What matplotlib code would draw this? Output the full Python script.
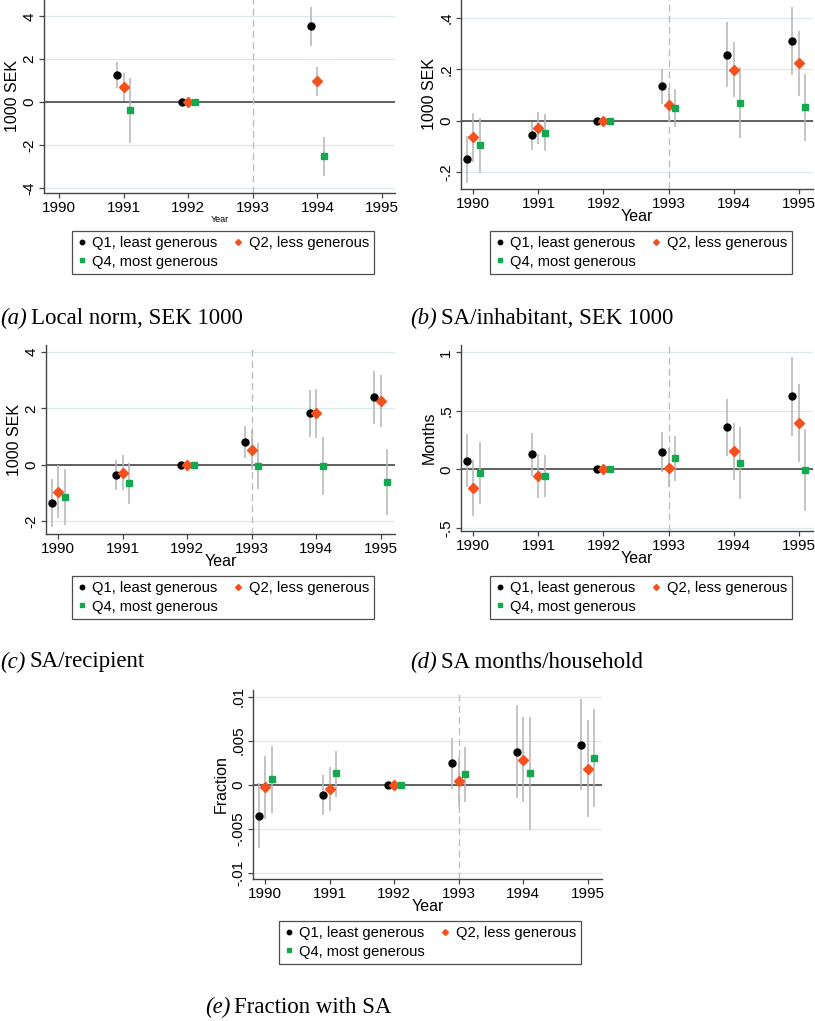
import matplotlib
matplotlib.use("Agg")
import matplotlib.pyplot as plt
import numpy as np
from matplotlib.lines import Line2D

plt.rcParams['font.family'] = ['Liberation Sans', 'DejaVu Sans']

W, H = 815, 1021
years = [1990, 1991, 1992, 1993, 1994, 1995]
series_names = ["Q1, least generous", "Q2, less generous", "Q4, most generous"]

# Panel (a): Local norm, SEK 1000 (only 1991, 1992, 1994)
a_years = [1991, 1992, 1994]
a_q1 = [1.25, 0.0, 3.55]
a_q1_lo = [0.65, 0.0, 2.62]
a_q1_hi = [1.85, 0.0, 4.45]
a_q2 = [0.70, 0.0, 0.97]
a_q2_lo = [0.05, 0.0, 0.28]
a_q2_hi = [1.35, 0.0, 1.65]
a_q4 = [-0.38, 0.0, -2.52]
a_q4_lo = [-1.88, 0.0, -3.43]
a_q4_hi = [1.12, 0.0, -1.60]

# Panel (b): SA/inhabitant, SEK 1000
b_q1 = [-0.151, -0.057, 0.0, 0.134, 0.257, 0.310]
b_q1_lo = [-0.242, -0.114, 0.0, 0.064, 0.129, 0.179]
b_q1_hi = [-0.060, -0.004, 0.0, 0.201, 0.384, 0.444]
b_q2 = [-0.064, -0.030, 0.0, 0.060, 0.199, 0.223]
b_q2_lo = [-0.161, -0.092, 0.0, -0.005, 0.092, 0.094]
b_q2_hi = [0.031, 0.034, 0.0, 0.128, 0.305, 0.351]
b_q4 = [-0.097, -0.047, 0.0, 0.048, 0.070, 0.051]
b_q4_lo = [-0.204, -0.119, 0.0, -0.026, -0.070, -0.081]
b_q4_hi = [0.009, 0.026, 0.0, 0.122, 0.210, 0.182]

# Panel (c): SA/recipient
c_q1 = [-1.37, -0.37, 0.0, 0.82, 1.82, 2.39]
c_q1_lo = [-2.22, -0.89, 0.0, 0.25, 0.97, 1.43]
c_q1_hi = [-0.52, 0.17, 0.0, 1.37, 2.65, 3.34]
c_q2 = [-0.96, -0.28, 0.0, 0.52, 1.82, 2.26]
c_q2_lo = [-1.88, -0.90, 0.0, -0.20, 0.95, 1.34]
c_q2_hi = [-0.01, 0.33, 0.0, 1.25, 2.69, 3.18]
c_q4 = [-1.14, -0.66, 0.0, -0.05, -0.05, -0.63]
c_q4_lo = [-2.14, -1.40, 0.0, -0.85, -1.08, -1.79]
c_q4_hi = [-0.15, 0.07, 0.0, 0.76, 0.97, 0.56]

# Panel (d): SA months/household
d_q1 = [0.074, 0.128, 0.0, 0.148, 0.359, 0.624]
d_q1_lo = [-0.148, -0.057, 0.0, -0.020, 0.114, 0.285]
d_q1_hi = [0.300, 0.313, 0.0, 0.316, 0.601, 0.963]
d_q2 = [-0.157, -0.057, 0.0, 0.014, 0.157, 0.393]
d_q2_lo = [-0.396, -0.248, 0.0, -0.150, -0.088, 0.063]
d_q2_hi = [0.080, 0.131, 0.0, 0.180, 0.393, 0.726]
d_q4 = [-0.028, -0.054, 0.0, 0.094, 0.057, -0.006]
d_q4_lo = [-0.296, -0.234, 0.0, -0.103, -0.251, -0.356]
d_q4_hi = [0.236, 0.125, 0.0, 0.288, 0.362, 0.345]

# Panel (e): Fraction with SA
e_q1 = [-0.00352, -0.00114, 0.0, 0.00242, 0.00375, 0.00455]
e_q1_lo = [-0.00723, -0.00341, 0.0, -0.00049, -0.00152, -0.00064]
e_q1_hi = [0.00015, 0.00110, 0.0, 0.00534, 0.00905, 0.00973]
e_q2 = [-0.00030, -0.00045, 0.0, 0.00042, 0.00280, 0.00182]
e_q2_lo = [-0.00394, -0.00295, 0.0, -0.00250, -0.00200, -0.00371]
e_q2_hi = [0.00326, 0.00200, 0.0, 0.00320, 0.00765, 0.00735]
e_q4 = [0.00061, 0.00129, 0.0, 0.00117, 0.00129, 0.00299]
e_q4_lo = [-0.00326, -0.00136, 0.0, -0.00200, -0.00515, -0.00258]
e_q4_hi = [0.00439, 0.00386, 0.0, 0.00432, 0.00765, 0.00856]

y_ticks_ab = {
    'a': ([-4, -2, 0, 2, 4], ["-4", "-2", "0", "2", "4"]),
    'b': ([-0.2, 0, 0.2, 0.4], ["-.2", "0", ".2", ".4"]),
    'c': ([-2, 0, 2, 4], ["-2", "0", "2", "4"]),
    'd': ([-0.5, 0, 0.5, 1], ["-.5", "0", ".5", "1"]),
    'e': ([-0.01, -0.005, 0, 0.005, 0.01], ["-.01", "-.005", "0", ".005", ".01"]),
}

C_Q1 = "#000000"
C_Q2 = "#f4511e"
C_Q4 = "#14a84f"
CI_COL = "#b4b4b4"
GRID = "#dce9ec"

fig = plt.figure(figsize=(W / 100, H / 100), dpi=100)


def add_axes_px(l, t, r, b):
    return fig.add_axes([l / W, 1 - b / H, (r - l) / W, (b - t) / H])


def draw_panel(ax, xs, data, ylim, ticks, ylabel, xlim, small_xlabel=False):
    ax.set_xlim(*xlim)
    ax.set_ylim(*ylim)
    tv, tl = ticks
    ax.set_yticks(tv)
    ax.set_yticklabels(tl, rotation=90, va='center', fontsize=11)
    ax.set_xticks(years)
    ax.set_xticklabels([str(y) for y in years], fontsize=11)
    for v in tv:
        ax.axhline(v, color=GRID, lw=0.9, zorder=0)
    ax.axhline(0, color="#3a3a3a", lw=1.1, zorder=1)
    ax.axvline(1993, color="#c0c0c0", lw=1.0, ls=(0, (5, 3)), zorder=1)
    xs = np.array(xs, dtype=float)
    specs = [(-0.1, 'o', C_Q1, 5.0), (0.0, 'D', C_Q2, 4.6), (0.1, 's', C_Q4, 5.0)]
    for (off, mk, col, ms), (v, lo, hi) in zip(specs, data):
        x = xs + off
        ax.vlines(x, lo, hi, color=CI_COL, lw=1.1, zorder=2)
        ax.plot(x, v, ls='none', marker=mk, color=col, ms=ms, mec=col, zorder=3)
    for s in ['top', 'right']:
        ax.spines[s].set_visible(False)
    for s in ['left', 'bottom']:
        ax.spines[s].set_color("#444444")
        ax.spines[s].set_linewidth(1.0)
    ax.tick_params(axis='both', length=3.5, width=0.9, color="#444444", pad=2)
    ax.set_ylabel(ylabel, fontsize=11.5, labelpad=2)
    if small_xlabel:
        ax.set_xlabel("Year", fontsize=6.5, labelpad=0)
    else:
        ax.set_xlabel("Year", fontsize=11.5, labelpad=-1.5)


xlim_std = (1989.81, 1995.22)

ax_a = add_axes_px(44, -2, 395, 193)
draw_panel(ax_a, a_years,
           [(a_q1, a_q1_lo, a_q1_hi), (a_q2, a_q2_lo, a_q2_hi), (a_q4, a_q4_lo, a_q4_hi)],
           (-4.23, 4.85), y_ticks_ab['a'], "1000 SEK", (1989.77, 1995.2), small_xlabel=True)

ax_b = add_axes_px(461, -2, 813, 189)
draw_panel(ax_b, years,
           [(b_q1, b_q1_lo, b_q1_hi), (b_q2, b_q2_lo, b_q2_hi), (b_q4, b_q4_lo, b_q4_hi)],
           (-0.267, 0.478), y_ticks_ab['b'], "1000 SEK", xlim_std)

ax_c = add_axes_px(46, 345, 395, 534)
draw_panel(ax_c, years,
           [(c_q1, c_q1_lo, c_q1_hi), (c_q2, c_q2_lo, c_q2_hi), (c_q4, c_q4_lo, c_q4_hi)],
           (-2.46, 4.25), y_ticks_ab['c'], "1000 SEK", xlim_std)

ax_d = add_axes_px(461, 345, 813, 531)
draw_panel(ax_d, years,
           [(d_q1, d_q1_lo, d_q1_hi), (d_q2, d_q2_lo, d_q2_hi), (d_q4, d_q4_lo, d_q4_hi)],
           (-0.527, 1.063), y_ticks_ab['d'], "Months", xlim_std)

ax_e = add_axes_px(253, 690, 602, 879)
draw_panel(ax_e, years,
           [(e_q1, e_q1_lo, e_q1_hi), (e_q2, e_q2_lo, e_q2_hi), (e_q4, e_q4_lo, e_q4_hi)],
           (-0.01072, 0.01076), y_ticks_ab['e'], "Fraction", xlim_std)

handles = [
    Line2D([], [], ls='none', marker='o', color=C_Q1, ms=3.2),
    Line2D([], [], ls='none', marker='s', color=C_Q4, ms=3.2),
    Line2D([], [], ls='none', marker='D', color=C_Q2, ms=3.0),
]
labels = [series_names[0], series_names[2], series_names[1]]


def add_legend(x0, y0):
    leg = fig.legend(handles, labels, loc='upper left',
                     bbox_to_anchor=(x0 / W, 1 - y0 / H), ncol=2,
                     fontsize=10.6, frameon=True, fancybox=False,
                     borderaxespad=0, handlelength=0.6, handletextpad=0.4,
                     columnspacing=1.1, labelspacing=0.3, borderpad=0.35)
    fr = leg.get_frame()
    fr.set_edgecolor("#222222")
    fr.set_linewidth(0.9)
    return leg


add_legend(72, 231)
add_legend(490, 231)
add_legend(72, 576)
add_legend(490, 576)
add_legend(279, 921)


def caption(x, y, letter, text):
    t = fig.text(x / W, 1 - y / H, f"({letter})", fontsize=16.5,
                 family='Liberation Serif', style='italic', va='center', ha='left')
    fig.canvas.draw()
    bb = t.get_window_extent()
    fig.text((bb.x1 + 4) / W, 1 - y / H, text, fontsize=16.5,
             family='Liberation Serif', va='center', ha='left')


caption(0, 318, 'a', "Local norm, SEK 1000")
caption(410, 318, 'b', "SA/inhabitant, SEK 1000")
caption(0, 662, 'c', "SA/recipient")
caption(410, 662, 'd', "SA months/household")
caption(205, 1007, 'e', "Fraction with SA")

fig.savefig("out.png", dpi=100)
